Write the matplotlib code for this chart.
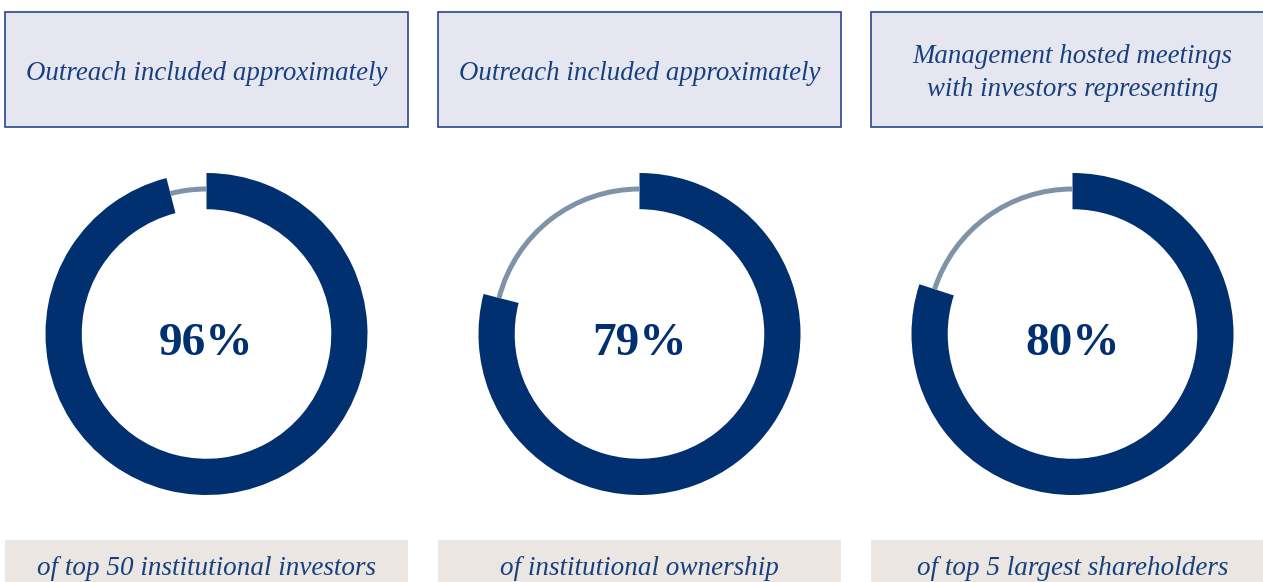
import matplotlib.pyplot as plt
from matplotlib.patches import Rectangle

# values
pcts = [96, 79, 80]
top_labels = ["Outreach included approximately",
              "Outreach included approximately",
              "Management hosted meetings\nwith investors representing"]
bottom_labels = ["of top 50 institutional investors",
                 "of institutional ownership",
                 "of top 5 largest shareholders"]

NAVY = '#00306F'
GREY = '#7F93A8'
TEXT = '#17407E'
SERIF = ['Liberation Serif', 'DejaVu Serif']

W, H = 1263, 582
fig = plt.figure(figsize=(W / 100, H / 100), dpi=100)
bg = fig.add_axes([0, 0, 1, 1])
bg.set_xlim(0, W)
bg.set_ylim(H, 0)
bg.axis('off')

panel_x = [5, 438, 871]
panel_w = 403
R = 161   # outer radius of the donut, px
cy = 334  # donut centre from top, px

for i in range(3):
    x0 = panel_x[i]
    xc = x0 + panel_w / 2
    # header box
    bg.add_patch(Rectangle((x0, 12), panel_w, 115, facecolor='#E6E6F0',
                           edgecolor='#27478A', lw=1.2))
    lines = top_labels[i].split('\n')
    # baselines: one line at 80, two lines at 63 / 96
    base = 80 if len(lines) == 1 else 63
    for j, line in enumerate(lines):
        bg.text(xc, base + 33 * j, line, ha='center', va='baseline',
                color=TEXT, fontsize=19.4, style='italic', family=SERIF)
    # footer box
    bg.add_patch(Rectangle((x0, 540), panel_w, 60, facecolor='#EBE6E2',
                           edgecolor='none'))
    bg.text(xc, 575, bottom_labels[i], ha='center', va='baseline', color=TEXT,
            fontsize=19.5, style='italic', family=SERIF)

    # donut
    ax = fig.add_axes([(xc - R) / W, (H - cy - R) / H, 2 * R / W, 2 * R / H])
    vals = [pcts[i], 100 - pcts[i]]
    ax.pie(vals, startangle=90, counterclock=False, colors=[NAVY, 'none'],
           radius=1, wedgeprops=dict(width=0.225, linewidth=0))
    ax.pie(vals, startangle=90, counterclock=False, colors=['none', GREY],
           radius=147.5 / R, wedgeprops=dict(width=5 / R, linewidth=0))
    ax.set_xlim(-1, 1)
    ax.set_ylim(-1, 1)
    ax.text(0, -21 / R, f'{pcts[i]}%', ha='center', va='baseline', color=NAVY,
            fontsize=34, fontweight='bold', family=SERIF)

fig.savefig('out.png', dpi=100)
